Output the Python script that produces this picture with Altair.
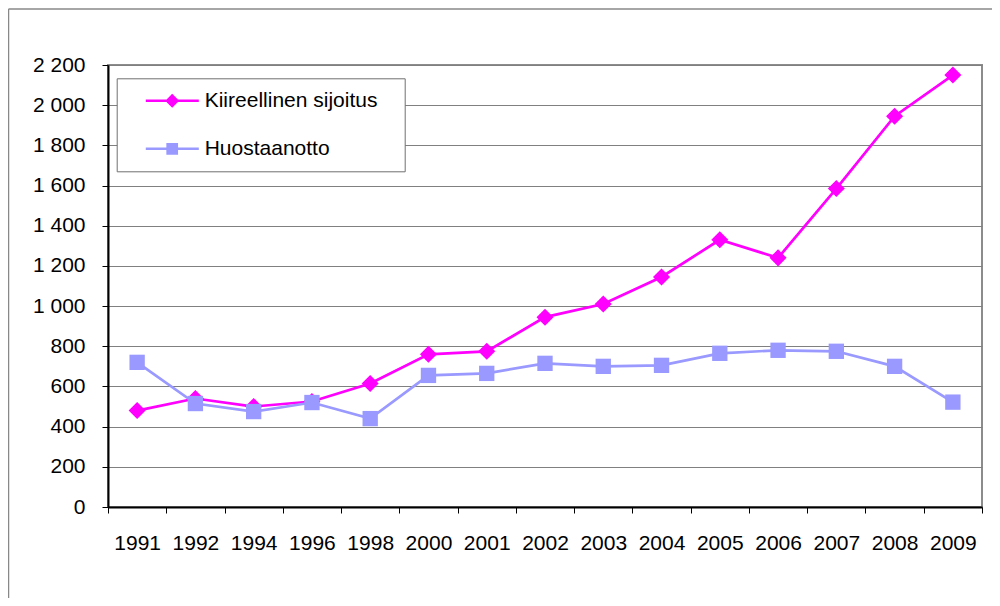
import altair as alt
import pandas as pd

years = ["1991", "1992", "1994", "1996", "1998", "2000", "2001", "2002",
         "2003", "2004", "2005", "2006", "2007", "2008", "2009"]
kiireellinen = [480, 540, 500, 525, 615, 760, 775, 945, 1010, 1145, 1330, 1240, 1585, 1945, 2150]
huostaanotto = [720, 515, 475, 520, 440, 655, 665, 715, 700, 705, 765, 780, 775, 700, 522]
series_names = ["Kiireellinen sijoitus", "Huostaanotto"]
series_colors = ["#FF00FF", "#9999FF"]
y_ticks = list(range(0, 2201, 200))

rows = []
for s, vals in zip(series_names, [kiireellinen, huostaanotto]):
    for y, v in zip(years, vals):
        rows.append({"year": y, "value": v, "series": s})
df = pd.DataFrame(rows)

FONT = "Liberation Sans"

diamond_path = "M3.3,0L29.8,0M13.9,0L16.5,-2.6L19.1,0L16.5,2.6Z"
square_path = "M3.3,0L29.8,0M14.2,-2.3L18.8,-2.3L18.8,2.3L14.2,2.3Z"

color_scale = alt.Scale(domain=series_names, range=series_colors)

legend = alt.Legend(
    title=".", titleOrient="right", titleOpacity=0, titleFontSize=21,
    titlePadding=9, titleFont=FONT,
    orient="none", legendX=8.7, legendY=13.3, padding=12,
    strokeColor="#707070", fillColor="white",
    labelFont=FONT, labelFontSize=21, labelColor="black", labelLimit=400,
    labelOffset=55, rowPadding=26, symbolSize=16, symbolStrokeWidth=2.5,
    symbolOpacity=1,
    symbolType=alt.ExprRef(expr="datum.value === 'Huostaanotto' ? '" + square_path + "' : '" + diamond_path + "'"),
    symbolFillColor=alt.ExprRef(expr="scale('color', datum.value)"),
    symbolStrokeColor=alt.ExprRef(expr="scale('color', datum.value)"),
)

x_enc = alt.X(
    "year:N", sort=years,
    scale=alt.Scale(type="band", paddingInner=0, paddingOuter=0),
    axis=alt.Axis(
        title=None, labelAngle=0, tickBand="extent", grid=False,
        domainColor="black", domainWidth=2, tickColor="black", tickSize=6, tickWidth=1,
        labelFont=FONT, labelFontSize=21, labelColor="black", labelPadding=19,
    ),
)
y_enc = alt.Y(
    "value:Q",
    scale=alt.Scale(domain=[0, 2200], nice=False, zero=True),
    axis=alt.Axis(
        title=None, values=y_ticks, grid=True, gridColor="#808080", gridWidth=1,
        labelExpr="replace(format(datum.value, ','), ',', ' ')",
        domainColor="black", domainWidth=2, tickColor="black", tickSize=6, tickWidth=1,
        labelFont=FONT, labelFontSize=21, labelColor="black", labelPadding=17,
    ),
)

base = alt.Chart(df)

def series_layers(name, shape, size):
    sub = base.transform_filter(alt.datum.series == name)
    line = sub.mark_line(strokeWidth=2.7).encode(
        x=x_enc, y=y_enc,
        color=alt.Color("series:N", scale=color_scale, legend=legend),
    )
    pts = sub.mark_point(filled=True, opacity=1, size=size, shape=shape).encode(
        x=x_enc, y=y_enc,
        color=alt.Color("series:N", scale=color_scale, legend=None),
    )
    return [line, pts]

frame_df = pd.DataFrame({"a": [0]})
frame_top = alt.Chart(frame_df).mark_rule(color="#888888", strokeWidth=1.5).encode(
    x=alt.value(-99.5), x2=alt.value(884), y=alt.value(-56)
)
frame_left = alt.Chart(frame_df).mark_rule(color="#888888", strokeWidth=1.5).encode(
    x=alt.value(-99.5), y=alt.value(-56), y2=alt.value(533)
)

layers = [frame_top, frame_left]
layers += series_layers("Kiireellinen sijoitus", "diamond", 290)
layers += series_layers("Huostaanotto", "square", 235)

chart = alt.layer(*layers).properties(
    width=874, height=442,
    padding={"left": 100, "top": 57, "right": 10, "bottom": 91},
    autosize=alt.AutoSizeParams(type="none"),
    background="white",
).configure_view(
    stroke="#8c8c8c", strokeWidth=2
)

chart.save("out.html", embed_options={"renderer": "svg", "actions": False})
